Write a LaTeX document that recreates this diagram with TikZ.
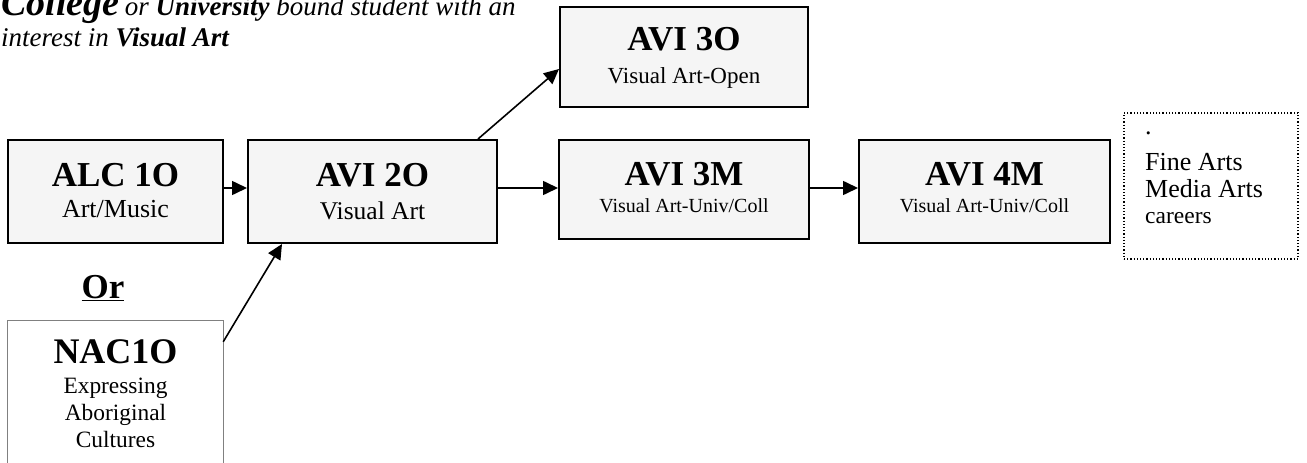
\documentclass[tikz,border=0pt]{standalone}
\usepackage{fontspec}
\setmainfont{Liberation Serif}
\usetikzlibrary{arrows.meta,calc}
\definecolor{boxfill}{HTML}{F5F5F5}
\definecolor{nacgray}{HTML}{808080}
\tikzset{
  course/.style={draw=black, line width=2pt, fill=boxfill, inner sep=0pt, rectangle},
  ttl/.style={anchor=base, inner sep=0pt, font=\fontsize{35}{35}\selectfont\bfseries},
  sub/.style={anchor=base, inner sep=0pt},
  lft/.style={anchor=base west, inner sep=0pt},
  conn/.style={line width=1.6pt, -{Triangle[length=15pt,width=14pt]}},
}
\begin{document}
\begin{tikzpicture}[x=1pt,y=-1pt]
\useasboundingbox (0,0) rectangle (1307,463);
% title
\node[lft] (t1) at (1,16) {{\fontsize{38}{38}\selectfont\bfseries\itshape College}\hspace{3pt} {\fontsize{27}{27}\selectfont\itshape or \textbf{University} bound student with an}};
\node[lft] (t2) at (1,46) {\fontsize{27}{27}\selectfont\itshape interest in \textbf{Visual Art}};
% boxes
\node[course, minimum width=215pt, minimum height=103pt] (alc) at (115.5,191.5) {};
\node[course, minimum width=249pt, minimum height=103pt] (a2) at (372.5,191.5) {};
\node[course, minimum width=250pt, minimum height=99pt] (a3m) at (684,189.5) {};
\node[course, minimum width=251pt, minimum height=103pt] (a4m) at (984.5,191.5) {};
\node[course, minimum width=248pt, minimum height=100pt] (a3o) at (684,57) {};
\node[draw=black, dotted, line width=1.2pt, inner sep=0pt, minimum width=174pt, minimum height=146pt] (car) at (1211,186) {};
\node[inner sep=0pt, minimum width=215pt, minimum height=142pt] (nac) at (115.5,392) {};
\draw[nacgray, line width=0.9pt] (nac.south west) -- (nac.north west) -- (nac.north east) -- (nac.south east);
% texts
\node[ttl] (alct) at (115.5,186) {ALC 1O};
\node[sub, font=\fontsize{26}{26}\selectfont] (alcs) at (115.5,217) {Art/Music};
\node[ttl] (a2t) at (372.5,186) {AVI 2O};
\node[sub, font=\fontsize{25.5}{26}\selectfont] (a2s) at (372.5,219) {Visual Art};
\node[ttl] (a3mt) at (684,185) {AVI 3M};
\node[sub, font=\fontsize{20}{20}\selectfont] (a3ms) at (684,212) {Visual Art-Univ/Coll};
\node[ttl] (a4mt) at (984.5,185) {AVI 4M};
\node[sub, font=\fontsize{20}{20}\selectfont] (a4ms) at (984.5,212) {Visual Art-Univ/Coll};
\node[ttl] (a3ot) at (684,50) {AVI 3O};
\node[sub, font=\fontsize{23}{23}\selectfont] (a3os) at (684,83) {Visual Art-Open};
\node[ttl, font=\fontsize{36}{36}\selectfont\bfseries] (nact) at (115.5,363) {NAC1O};
\node[sub, font=\fontsize{23.4}{24}\selectfont] (nac1) at (115.5,393) {Expressing};
\node[sub, font=\fontsize{23.4}{24}\selectfont] (nac2) at (115.5,420) {Aboriginal};
\node[sub, font=\fontsize{23.4}{24}\selectfont] (nac3) at (115.5,447) {Cultures};
\node[ttl] (or) at (103,298) {\underline{Or}};
\node[lft, font=\fontsize{26}{26}\selectfont] (c0) at (1145,134) {.};
\node[lft, font=\fontsize{26}{26}\selectfont] (c1) at (1145,170) {Fine Arts};
\node[lft, font=\fontsize{26}{26}\selectfont] (c2) at (1145,197) {Media Arts};
\node[lft, font=\fontsize{23.5}{24}\selectfont] (c3) at (1145,223) {careers};
% connectors
\draw[conn] ([yshift=3.5pt]alc.east) -- ([yshift=3.5pt]a2.west);
\draw[conn] ([yshift=3.5pt]a2.east) -- ([yshift=1.5pt]a3m.west);
\draw[conn] ([yshift=1.5pt]a3m.east) -- ([yshift=3.5pt]a4m.west);
\draw[conn] ([xshift=-20pt]a2.north east) -- ([yshift=-12pt]a3o.west);
\draw[conn] ([yshift=-21pt]nac.north east) -- ([xshift=35pt]a2.south west);
\end{tikzpicture}
\end{document}
